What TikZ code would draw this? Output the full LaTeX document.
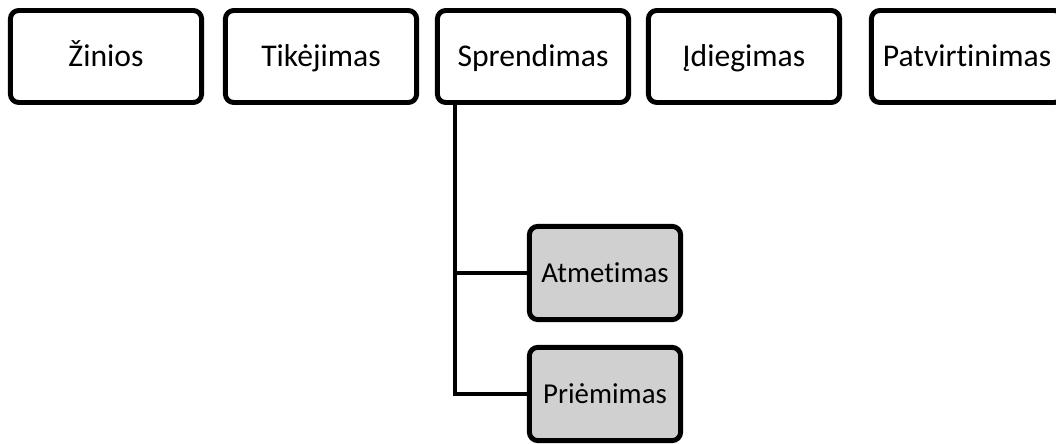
\documentclass[tikz,border=0pt]{standalone}
\usepackage{fontspec}
\setmainfont{Carlito}[Ligatures=NoCommon]
\usepackage{xcolor}
\definecolor{subgray}{RGB}{208,208,208}
\tikzset{
  stagebox/.style={draw=black, line width=3.5pt, rounded corners=6pt, fill=white,
    minimum width=4.78cm, minimum height=2.3cm, inner sep=0pt,
    text height=14.5pt, text depth=0pt,
    font=\fontsize{22.5}{27}\selectfont},
  subbox/.style={stagebox, fill=subgray, minimum width=3.78cm, minimum height=2.33cm,
    text height=13.2pt, font=\fontsize{20.5}{25}\selectfont},
  branch/.style={line width=2.9pt}
}
\begin{document}
\begin{tikzpicture}[x=0.025cm,y=-0.025cm]
        % rėmas
        \useasboundingbox (0,0) rectangle (1056,444);
        \clip (0,0) rectangle (1056,444);
        % viršutinė eilė
        \node[stagebox] (zinios) at (106,56.5) {Žinios};
        \node[stagebox] (tikejimas) at (321,56.5) {Tikėjimas};
        \node[stagebox] (sprendimas) at (533,56.5) {Sprendimas};
        \node[stagebox] (idiegimas) at (744,56.5) {Įdiegimas};
        \node[stagebox] (patvirtinimas) at (967,56.5) {Patvirtinimas};
        % sprendimo šakos
        \node[subbox] (atmetimas) at (605,273) {Atmetimas};
        \node[subbox] (priemimas) at (605,394) {Priėmimas};
        \coordinate (virsus) at (455,105);
        \draw[branch] (virsus) |- (atmetimas.west);
        \draw[branch] (virsus) |- (priemimas.west);
    \end{tikzpicture}
\end{document}
